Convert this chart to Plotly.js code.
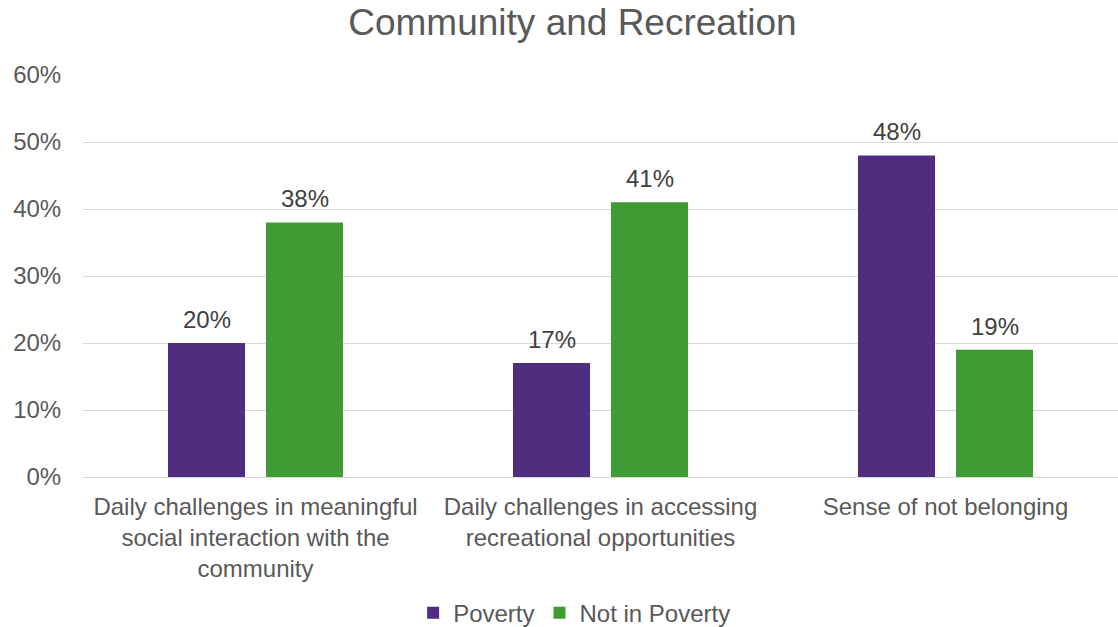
<!DOCTYPE html>
<html>
<head>
<meta charset="utf-8">
<script src="https://cdn.plot.ly/plotly-3.0.1.min.js"></script>
<style>html,body{margin:0;padding:0;background:#fff;}#chart{width:1118px;height:627px;}</style>
</head>
<body>
<div id="chart"></div>
<script>
const categories = [
  "Daily challenges in meaningful<br>social interaction with the<br>community",
  "Daily challenges in accessing<br>recreational opportunities",
  "Sense of not belonging"
];
const poverty = [0.20, 0.17, 0.48];
const notInPoverty = [0.38, 0.41, 0.19];
const seriesNames = ["Poverty", "Not in Poverty"];
const tickVals = [0, 0.1, 0.2, 0.3, 0.4, 0.5, 0.6];

const fontFam = "Liberation Sans, Arial, sans-serif";
const colors = ["#4f2d7f", "#3f9c35"];
const mk = (name, vals, color) => ({
  type: "bar", name: name, x: categories, y: vals,
  marker: {color: color},
  hoverinfo: "skip"
});
const data = [
  mk(seriesNames[0], poverty, colors[0]),
  mk(seriesNames[1], notInPoverty, colors[1])
];
const barOffset = 49;
const annotations = [];
[poverty, notInPoverty].forEach((vals, si) => {
  vals.forEach((v, i) => {
    annotations.push({
      x: categories[i], y: v, xref: "x", yref: "y",
      text: Math.round(v * 100) + "%",
      showarrow: false, yanchor: "bottom", xanchor: "center",
      xshift: si === 0 ? -barOffset : barOffset, yshift: 8,
      font: {family: fontFam, size: 24, color: "#404040"}
    });
  });
});
const layout = {
  width: 1118, height: 627,
  margin: {l: 83, r: 0, t: 75, b: 150},
  paper_bgcolor: "#fff", plot_bgcolor: "#fff",
  font: {family: fontFam, color: "#595959", size: 24},
  title: {text: "Community and Recreation", font: {family: fontFam, size: 37, color: "#595959"}, x: 0.512, xanchor: "center", y: 0.965, yanchor: "middle", yref: "container"},
  barmode: "group", bargap: 0.432, bargroupgap: 0.214,
  xaxis: {tickfont: {size: 24, color: "#595959"}, showline: true, linecolor: "#d9d9d9", linewidth: 1,
          ticks: "outside", ticklen: 8, tickcolor: "rgba(0,0,0,0)", automargin: false},
  yaxis: {range: [0, 0.6], tickvals: tickVals, tickformat: ".0%", gridcolor: "#d9d9d9", gridwidth: 1, zeroline: false,
          ticks: "outside", ticklen: 16, tickcolor: "rgba(0,0,0,0)", tickfont: {size: 24, color: "#595959"}, automargin: false},
  annotations: annotations,
  showlegend: true,
  legend: {orientation: "h", x: 0.475, xanchor: "center", xref: "paper", y: 0.022, yanchor: "middle", yref: "container",
           font: {size: 24, color: "#595959"}, itemclick: false},
};
Plotly.newPlot("chart", data, layout, {displayModeBar: false, staticPlot: true});
</script>
</body>
</html>
